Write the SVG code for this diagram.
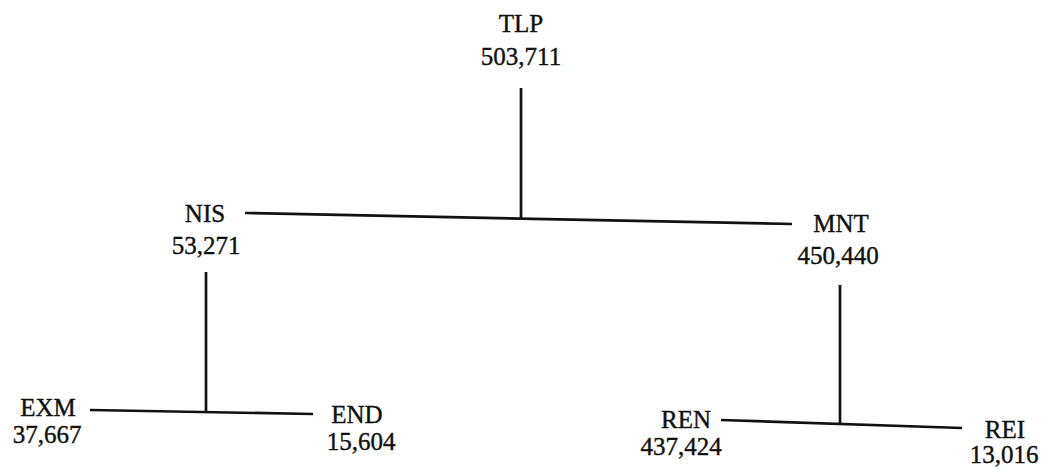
<svg xmlns="http://www.w3.org/2000/svg" width="1050" height="469" viewBox="0 0 1050 469">
<style>
text{font-family:"Liberation Serif","Times New Roman",serif;font-size:25px;fill:#111;stroke:#111;stroke-width:0.4;text-anchor:middle}
.c{stroke:#111;stroke-width:2.7;fill:none;stroke-linecap:butt}
</style>
<rect width="1050" height="469" fill="#fff"/>
<g id="connectors">
<line class="c" x1="521" y1="88" x2="521" y2="218"/>
<line class="c" x1="245" y1="213" x2="792" y2="224"/>
<line class="c" x1="206" y1="272" x2="206" y2="412"/>
<line class="c" x1="90" y1="410" x2="313" y2="414"/>
<line class="c" x1="840" y1="285" x2="840" y2="424"/>
<line class="c" x1="721" y1="420" x2="962" y2="428"/>
</g>
<g id="TLP"><text x="521" y="32">TLP</text><text x="521" y="65">503,711</text></g>
<g id="NIS"><text x="205" y="222">NIS</text><text x="206" y="254">53,271</text></g>
<g id="MNT"><text x="841" y="232">MNT</text><text x="838" y="264">450,440</text></g>
<g id="EXM"><text x="48" y="416">EXM</text><text x="47" y="443">37,667</text></g>
<g id="END"><text x="357" y="423">END</text><text x="361" y="450">15,604</text></g>
<g id="REN"><text x="686" y="428">REN</text><text x="681" y="455">437,424</text></g>
<g id="REI"><text x="1005" y="438">REI</text><text x="1004" y="463">13,016</text></g>
</svg>
